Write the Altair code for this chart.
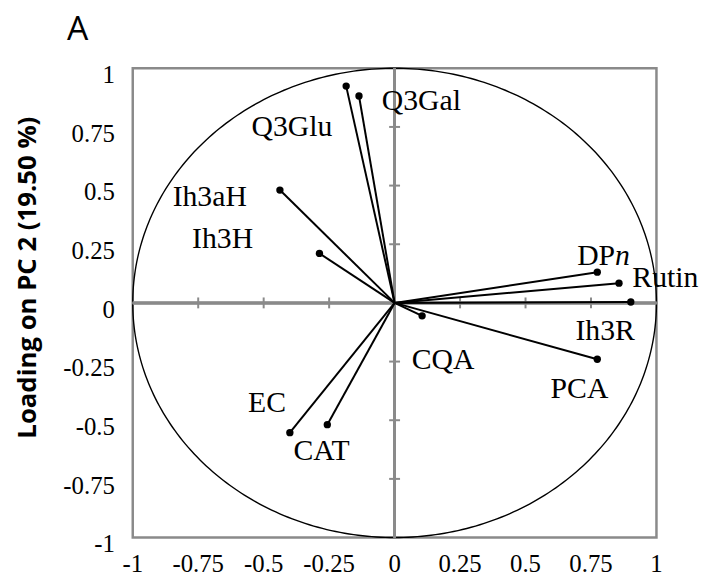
import altair as alt
import numpy as np
import pandas as pd

# Loadings (PC1, PC2)
names = ["Q3Glu", "Q3Gal", "Ih3aH", "Ih3H", "DPn", "Rutin", "Ih3R", "CQA", "PCA", "EC", "CAT"]
pc1 = [-0.185, -0.136, -0.438, -0.287, 0.774, 0.857, 0.902, 0.105, 0.774, -0.400, -0.257]
pc2 = [0.924, 0.882, 0.481, 0.211, 0.131, 0.084, 0.004, -0.055, -0.240, -0.553, -0.519]

# Label anchors (data units)
lab_names = ["Q3Glu", "Q3Gal", "Ih3aH", "Ih3H", "Rutin", "Ih3R", "CQA", "PCA", "EC", "CAT"]
lab_x = [-0.392, 0.102, -0.706, -0.657, 1.034, 0.804, 0.185, 0.706, -0.487, -0.279]
lab_y = [0.713, 0.823, 0.414, 0.232, 0.068, -0.160, -0.283, -0.405, -0.464, -0.671]
dp_x = [0.842]
dp_y = [0.160]

# panel letter anchor (data units)
panel_text = ["A"]
panel_x = [-1.251]
panel_y = [1.122]

tick_values = [-1, -0.75, -0.5, -0.25, 0, 0.25, 0.5, 0.75, 1]
tick_labels = ["-1", "-0.75", "-0.5", "-0.25", "0", "0.25", "0.5", "0.75", "1"]
cross_ticks = [-0.75, -0.5, -0.25, 0.25, 0.5, 0.75]

# unit correlation circle
ang = np.linspace(0, 2 * np.pi, 361)
circle = pd.DataFrame({"cx": np.cos(ang), "cy": np.sin(ang), "k": np.arange(361)})

vec = pd.DataFrame({"name": names, "pc1": pc1, "pc2": pc2, "o": [0.0] * len(names)})
labs = pd.DataFrame({"name": lab_names, "lx": lab_x, "ly": lab_y})
dp = pd.DataFrame({"lx": dp_x, "ly": dp_y})
panel = pd.DataFrame({"t": panel_text, "px": panel_x, "py": panel_y})
ticks = pd.DataFrame({"t": cross_ticks})
tl = pd.DataFrame({"v": tick_values, "s": tick_labels})

xs = alt.Scale(domain=[-1, 1], nice=False, zero=False)
ys = alt.Scale(domain=[-1, 1], nice=False, zero=False)
GRAY = "#8a8a8a"
SERIF = "Liberation Serif"

x_axis = alt.Axis(values=tick_values, labels=False, domain=False, ticks=False,
                  tickSize=0, grid=False, title=None)
y_axis = alt.Axis(values=tick_values, labels=False, domain=False, ticks=False,
                  tickSize=0, grid=False, title="Loading on PC 2 (19.50 %)", titleFont="Open Sans",
                  titleFontWeight="bold", titleFontSize=26, titleColor="black", titleX=-106,
                  titleY=211, titleAngle=270, titleAlign="center", titleBaseline="middle")


def X(f):
    return alt.X(f, type="quantitative", scale=xs, axis=x_axis)


def Y(f):
    return alt.Y(f, type="quantitative", scale=ys, axis=y_axis)


circ = alt.Chart(circle).mark_line(color="black", strokeWidth=1.4).encode(
    x=X("cx"), y=Y("cy"), order="k:Q",
)

hzero = alt.Chart(ticks).mark_rule(color=GRAY, strokeWidth=2.5).encode(
    y=alt.datum(0, scale=ys, axis=y_axis)
)
vzero = alt.Chart(ticks).mark_rule(color=GRAY, strokeWidth=2.5).encode(
    x=alt.datum(0, scale=xs, axis=x_axis)
)
xt = alt.Chart(ticks).mark_tick(orient="vertical", size=11, thickness=2, color=GRAY, opacity=1).encode(
    x=X("t"), y=alt.datum(0, scale=ys, axis=y_axis),
)
yt = alt.Chart(ticks).mark_tick(orient="horizontal", size=11, thickness=2, color=GRAY, opacity=1).encode(
    y=Y("t"), x=alt.datum(0, scale=xs, axis=x_axis),
)

# tick labels drawn as text through the scales
xlab = alt.Chart(tl).mark_text(font=SERIF, fontSize=25, color="black", align="center",
                               baseline="alphabetic", dy=35).encode(
    x=X("v"), y=alt.datum(-1, scale=ys, axis=y_axis), text="s:N",
)
ylab = alt.Chart(tl).mark_text(font=SERIF, fontSize=25, color="black", align="right",
                               baseline="alphabetic", dx=-18, dy=15).encode(
    y=Y("v"), x=alt.datum(-1, scale=xs, axis=x_axis), text="s:N",
)

rules = alt.Chart(vec).mark_rule(color="black", strokeWidth=2).encode(
    x=X("o"), y=Y("o"), x2="pc1:Q", y2="pc2:Q",
)
dots = alt.Chart(vec).mark_circle(color="black", size=55, opacity=1).encode(
    x=X("pc1"), y=Y("pc2"),
)
texts = alt.Chart(labs).mark_text(font=SERIF, fontSize=30, color="black", align="center",
                                  baseline="alphabetic").encode(
    x=X("lx"), y=Y("ly"), text="name:N",
)
dp_text = alt.Chart(dp).mark_text(font=SERIF, fontSize=30, color="black", align="right",
                                  baseline="alphabetic", text="DP").encode(
    x=X("lx"), y=Y("ly"),
)
n_text = alt.Chart(dp).mark_text(font=SERIF, fontSize=30, color="black", align="left",
                                 baseline="alphabetic", fontStyle="italic", text="n").encode(
    x=X("lx"), y=Y("ly"),
)
panel_lab = alt.Chart(panel).mark_text(font="Open Sans", fontSize=34, color="black", align="left",
                                       baseline="alphabetic").encode(
    x=X("px"), y=Y("py"), text="t:N",
)

chart = alt.layer(circ, hzero, vzero, xt, yt, xlab, ylab, rules, dots, texts, dp_text, n_text,
                  panel_lab).properties(
    width=529,
    height=474,
    padding={"left": 126, "top": 58, "right": 46, "bottom": 40},
    autosize=alt.AutoSizeParams(type="none"),
).configure_view(stroke=GRAY, strokeWidth=2.5)

chart.save("out.html", embed_options={"renderer": "svg", "actions": False})
